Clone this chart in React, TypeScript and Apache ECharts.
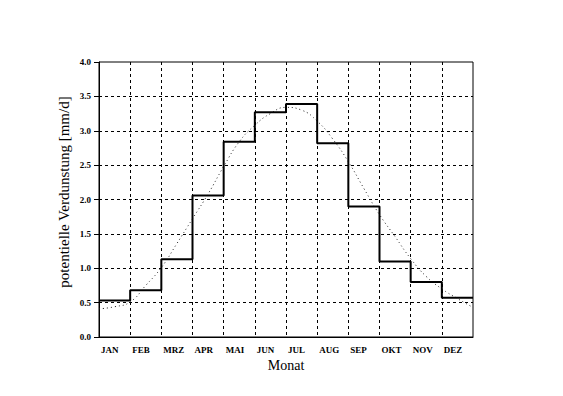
import React, { useEffect, useRef } from "react";
import * as echarts from "echarts";

const months = ["JAN", "FEB", "MRZ", "APR", "MAI", "JUN", "JUL", "AUG", "SEP", "OKT", "NOV", "DEZ"];
// monthly mean potential evaporation (mm/d), step line
const monthlyValues = [0.53, 0.68, 1.13, 2.06, 2.84, 3.27, 3.39, 2.82, 1.9, 1.1, 0.8, 0.57];
// smooth fitted curve, sampled every half month from start of JAN to end of DEZ
const curveValues = [
  0.41, 0.44, 0.51, 0.75, 1.01, 1.36, 1.72, 2.08, 2.48, 2.84, 3.08, 3.25, 3.34,
  3.3, 3.14, 2.88, 2.55, 2.16, 1.78, 1.46, 1.14, 0.88, 0.7, 0.56, 0.43,
];
const yTicks = { min: 0, max: 4, interval: 0.5 };

const FONT = "'Liberation Serif', 'Times New Roman', serif";

export default function App() {
  const ref = useRef<HTMLDivElement>(null);
  useEffect(() => {
    document.body.style.margin = "0";
    const chart = echarts.init(ref.current!, null, { renderer: "svg" });
    const stepData = monthlyValues.map((v, i) => [i, v]);
    stepData.push([months.length, monthlyValues[monthlyValues.length - 1]]);
    const curveData = curveValues.map((v, i) => [i / 2, v]);
    chart.setOption({
      animation: false,
      backgroundColor: "#fff",
      grid: {
        left: 99,
        right: 90,
        top: 62,
        bottom: 59,
        show: true,
        borderColor: "#000",
        borderWidth: 1,
        backgroundColor: "transparent",
      },
      xAxis: {
        type: "value",
        min: 0,
        max: months.length,
        interval: 1,
        axisLine: { show: true, lineStyle: { color: "#000", width: 1 } },
        axisTick: { show: false },
        axisLabel: {
          margin: 8,
          align: "left",
          padding: [0, 0, 0, 2],
          fontFamily: FONT,
          fontWeight: "bold",
          fontSize: 9,
          color: "#000",
          formatter: (v: number) => months[Math.round(v)] ?? "",
        },
        splitLine: {
          show: true,
          showMinLine: false,
          showMaxLine: false,
          lineStyle: { color: "#000", width: 1, type: [3, 3] },
        },
        name: "Monat",
        nameLocation: "middle",
        nameGap: 19,
        nameTextStyle: { fontFamily: FONT, fontSize: 14, color: "#000" },
      },
      yAxis: {
        type: "value",
        min: yTicks.min,
        max: yTicks.max,
        interval: yTicks.interval,
        axisLine: { show: true, lineStyle: { color: "#000", width: 1 } },
        axisTick: { show: true, length: 5, lineStyle: { color: "#000" } },
        axisLabel: {
          margin: 8,
          fontFamily: FONT,
          fontWeight: "bold",
          fontSize: 9,
          color: "#000",
          formatter: (v: number) => v.toFixed(1),
        },
        splitLine: {
          show: true,
          showMinLine: false,
          showMaxLine: false,
          lineStyle: { color: "#000", width: 1, type: [3, 3] },
        },
      },
      graphic: [
        {
          type: "text",
          x: 64,
          y: 192,
          rotation: Math.PI / 2,
          style: {
            text: "potentielle Verdunstung [mm/d]",
            fontFamily: FONT,
            fontSize: 15,
            fill: "#000",
            align: "center",
            verticalAlign: "middle",
          },
        },
      ],
      series: [
        {
          type: "line",
          data: curveData,
          smooth: true,
          symbol: "none",
          lineStyle: { color: "#222", width: 1, type: [1, 3] },
          z: 2,
        },
        {
          type: "line",
          data: stepData,
          step: "end",
          symbol: "none",
          lineStyle: { color: "#000", width: 2 },
          z: 3,
        },
      ],
    });
    return () => chart.dispose();
  }, []);
  return <div ref={ref} style={{ width: 563, height: 396 }} />;
}
